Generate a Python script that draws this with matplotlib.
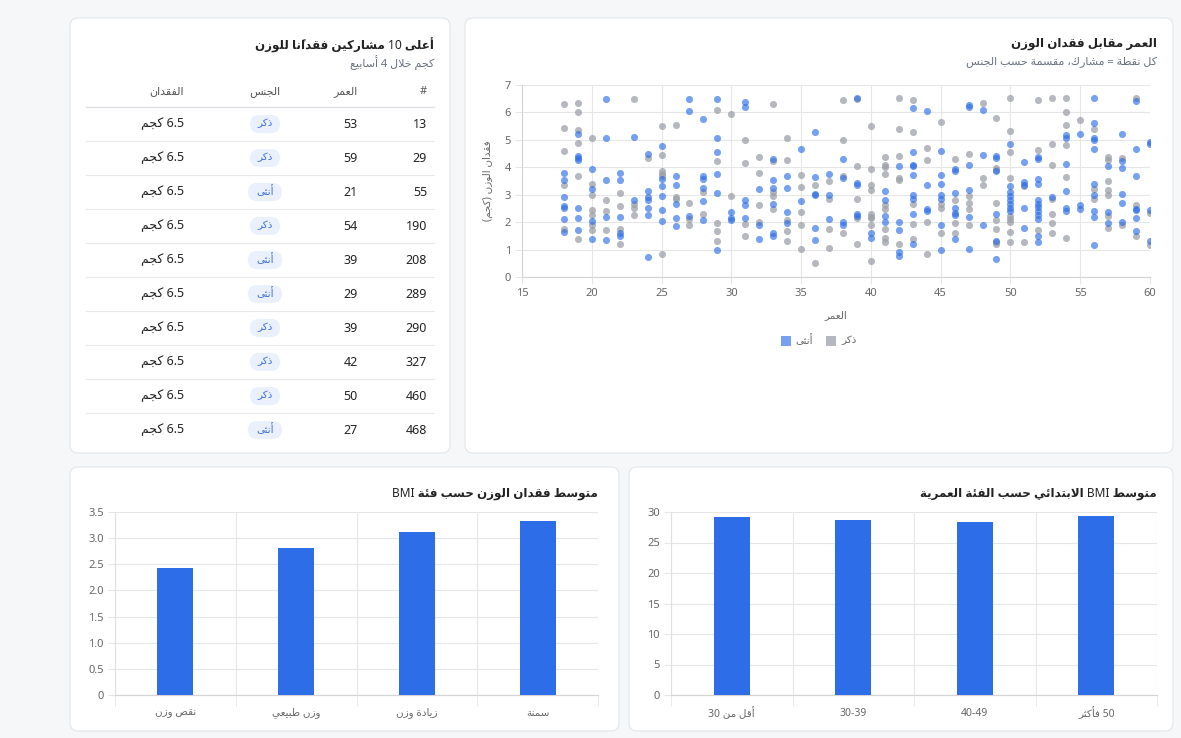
import re
import numpy as np
import matplotlib
matplotlib.use('Agg')
import matplotlib.pyplot as plt
from matplotlib.patches import FancyBboxPatch, Rectangle

plt.rcParams['font.family'] = ['Noto Sans', 'DejaVu Sans']

W, H = 1181, 738

# ---- data ----
table_ids = [13, 29, 55, 190, 208, 289, 290, 327, 460, 468]
table_ages = [53, 59, 21, 54, 39, 29, 39, 42, 50, 27]
table_gender = ['ذكر', 'ذكر', 'أنثى', 'ذكر', 'أنثى', 'أنثى', 'ذكر', 'ذكر', 'ذكر', 'أنثى']
table_loss = [6.5, 6.5, 6.5, 6.5, 6.5, 6.5, 6.5, 6.5, 6.5, 6.5]

# weight loss (kg) per age, read column by column
female_loss = {
    18: [3.8, 3.55, 2.9, 2.6, 2.5, 2.1, 1.65],
    19: [5.22, 4.42, 4.35, 4.27, 2.52, 2.14, 1.72],
    20: [3.95, 3.2, 2.05, 1.4],
    21: [6.5, 5.07, 3.55, 2.2, 1.35],
    22: [3.8, 3.55, 2.2, 1.6, 1.5],
    23: [5.1, 2.8],
    24: [4.5, 3.15, 2.9, 2.8, 2.5, 2.25, 0.72],
    25: [4.77, 3.58, 3.3, 2.97, 2.45, 2.05],
    26: [3.67, 3.36, 2.67, 2.15, 1.85],
    27: [6.5, 6.05, 2.22],
    28: [5.76, 3.7, 3.58, 3.24, 2.78, 2.06],
    29: [6.5, 5.05, 4.56, 3.74, 3.06, 0.98],
    30: [2.37, 2.15, 2.06],
    31: [6.38, 6.2, 2.79, 2.63, 2.15],
    32: [3.2, 1.88, 1.38],
    33: [4.32, 3.52, 3.24, 2.66, 1.6, 1.49],
    34: [3.7, 3.26, 2.37, 1.98],
    35: [4.68, 2.76],
    36: [5.3, 3.65, 3.04, 2.98, 1.8, 1.35],
    37: [3.76, 2.98, 2.12],
    38: [4.32, 3.62, 2.0, 1.88],
    39: [6.51, 3.44, 3.34, 2.3, 2.24],
    40: [1.6, 1.41],
    41: [3.12, 2.79, 2.24, 2.0],
    42: [4.05, 2.02, 1.7, 0.9, 0.76],
    43: [6.15, 4.54, 4.1, 4.05, 3.71, 2.98, 2.85, 2.3, 1.2],
    44: [6.07, 3.35, 2.49, 2.41],
    45: [4.6, 3.71, 3.4, 2.98, 2.85, 1.9, 1.0],
    46: [3.95, 3.88, 3.07, 2.51, 2.33, 2.27, 1.39],
    47: [6.27, 6.2, 4.07, 3.18, 2.17, 1.01],
    48: [6.1, 4.46, 1.88],
    49: [4.4, 4.35, 3.85, 2.29, 1.3, 0.66],
    50: [4.84, 3.3, 3.1, 2.95, 2.8, 2.65, 2.5, 2.4],
    51: [4.2, 3.46, 3.37, 2.51, 1.78],
    52: [4.37, 4.32, 3.56, 3.4, 2.79, 2.66, 2.55, 2.41, 2.25, 2.12, 1.49, 1.26],
    53: [2.91],
    54: [5.17, 5.07, 4.12, 3.12, 2.51, 2.39],
    55: [5.23, 2.61, 2.49],
    56: [6.51, 5.63, 5.05, 4.99, 4.66, 3.4, 3.0, 2.39, 2.18, 1.15],
    57: [4.04, 2.37, 1.98],
    58: [5.23, 4.22, 3.98, 3.04, 2.68, 2.0],
    59: [6.41, 4.66, 3.68, 2.49, 2.43, 2.15, 1.68],
    60: [4.93, 4.85, 2.46, 1.3],
}
male_loss = {
    18: [6.3, 5.45, 4.6, 3.36, 1.75],
    19: [6.34, 6.0, 5.36, 4.9, 3.69, 1.4],
    20: [5.05, 3.4, 3.0, 2.43, 2.25, 1.9, 1.7],
    21: [2.8, 2.4, 1.7],
    22: [3.05, 2.6, 1.75, 1.2],
    23: [6.5, 2.65, 2.5, 2.25],
    24: [4.35],
    25: [5.5, 4.44, 3.85, 3.75, 3.7, 0.85],
    26: [5.55, 2.9, 2.85],
    27: [2.7, 2.1, 1.88],
    28: [3.1, 2.3],
    29: [6.09, 4.24, 1.98, 1.66, 1.3],
    30: [5.93, 2.94],
    31: [5.01, 4.16, 1.94, 1.49],
    32: [4.39, 3.78, 2.61, 2.02],
    33: [6.29, 4.23, 3.1, 2.94, 2.49],
    34: [5.05, 4.26, 2.06, 1.66, 1.3],
    35: [3.71, 3.28, 2.37, 1.88, 1.01],
    36: [3.34, 0.52],
    37: [3.5, 2.83, 1.74, 1.05],
    38: [6.44, 4.99, 3.67, 1.61],
    39: [6.5, 4.05, 2.85, 2.15, 1.2],
    40: [5.5, 3.95, 3.37, 3.16, 2.3, 2.2, 2.15, 1.88, 0.57],
    41: [4.37, 4.1, 4.0, 3.77, 2.63, 2.49, 1.76, 1.41, 1.27],
    42: [6.51, 5.38, 4.41, 3.62, 3.52, 1.2],
    43: [6.46, 5.29, 2.67, 1.94, 1.39],
    44: [4.72, 4.28, 2.02, 0.83],
    45: [5.66, 2.67, 2.51, 1.61],
    46: [4.29, 2.82, 1.96, 1.61],
    47: [4.5, 2.95, 2.7, 2.49, 1.91],
    48: [6.34, 3.61, 3.37],
    49: [5.8, 3.98, 3.89, 2.7, 2.07, 1.76, 1.29, 1.2],
    50: [6.51, 5.33, 4.56, 3.61, 2.24, 2.12, 2.0, 1.63, 1.29],
    51: [3.3, 1.27],
    52: [6.46, 4.62, 1.73],
    53: [6.51, 4.84, 4.07, 2.83, 2.3, 1.96, 1.62],
    54: [6.51, 6.0, 5.54, 4.8, 3.66, 1.44],
    55: [5.74],
    56: [5.39, 3.22, 2.85],
    57: [4.38, 4.26, 3.49, 3.16, 3.0, 2.24, 1.78],
    58: [4.35, 1.88],
    59: [6.51, 2.63, 1.51],
    60: [2.34, 1.18],
}

bmi_cats = ['نقص وزن', 'وزن طبيعي', 'زيادة وزن', 'سمنة']
bmi_loss = [2.42, 2.82, 3.11, 3.33]

age_groups = ['أقل من 30', '30-39', '40-49', '50 فأكثر']
age_bmi = [29.1, 28.7, 28.4, 29.3]

BLUE = '#2d6de8'
GRAY = '#9ca0a8'

# ---- arabic shaping (matplotlib has no bidi / joining) ----
_AR = {
    'ء': (0xFE80, 1), 'آ': (0xFE81, 2), 'أ': (0xFE83, 2), 'ؤ': (0xFE85, 2),
    'إ': (0xFE87, 2), 'ئ': (0xFE89, 4), 'ا': (0xFE8D, 2), 'ب': (0xFE8F, 4),
    'ة': (0xFE93, 2), 'ت': (0xFE95, 4), 'ث': (0xFE99, 4), 'ج': (0xFE9D, 4),
    'ح': (0xFEA1, 4), 'خ': (0xFEA5, 4), 'د': (0xFEA9, 2), 'ذ': (0xFEAB, 2),
    'ر': (0xFEAD, 2), 'ز': (0xFEAF, 2), 'س': (0xFEB1, 4), 'ش': (0xFEB5, 4),
    'ص': (0xFEB9, 4), 'ض': (0xFEBD, 4), 'ط': (0xFEC1, 4), 'ظ': (0xFEC5, 4),
    'ع': (0xFEC9, 4), 'غ': (0xFECD, 4), 'ف': (0xFED1, 4), 'ق': (0xFED5, 4),
    'ك': (0xFED9, 4), 'ل': (0xFEDD, 4), 'م': (0xFEE1, 4), 'ن': (0xFEE5, 4),
    'ه': (0xFEE9, 4), 'و': (0xFEED, 2), 'ى': (0xFEEF, 2), 'ي': (0xFEF1, 4),
}
_LAMALEF = {'آ': 0xFEF5, 'أ': 0xFEF7, 'إ': 0xFEF9, 'ا': 0xFEFB}
_MARKS = set(chr(c) for c in range(0x064B, 0x0653))
_MIRROR = {'(': ')', ')': '('}


def _shape(s):
    out = []
    n = len(s)
    i = 0
    while i < n:
        c = s[i]
        if c not in _AR:
            out.append(c)
            i += 1
            continue
        k = i - 1
        while k >= 0 and s[k] in _MARKS:
            k -= 1
        p = s[k] if k >= 0 else ''
        jp = p in _AR and _AR[p][1] == 4
        j = i + 1
        while j < n and s[j] in _MARKS:
            j += 1
        nx = s[j] if j < n else ''
        if c == 'ل' and nx in _LAMALEF:
            out.append(chr(_LAMALEF[nx] + (1 if jp else 0)))
            i = j + 1
            continue
        base, forms = _AR[c]
        jn = forms == 4 and nx in _AR and _AR[nx][1] > 1
        if forms == 1:
            g = base
        elif forms == 2:
            g = base + (1 if jp else 0)
        else:
            g = base + (3 if jp and jn else 1 if jp else 2 if jn else 0)
        out.append(chr(g))
        i += 1
    return ''.join(out)


def ar(s):
    s = _shape(s)
    runs = re.findall(r'[0-9A-Za-z][0-9A-Za-z.\-]*|[^0-9A-Za-z]+', s)
    vis = []
    for r in reversed(runs):
        if re.match(r'[0-9A-Za-z]', r):
            vis.append(r)
        else:
            cl = []
            for ch in r:
                if ch in _MARKS and cl:
                    cl[-1] += ch
                else:
                    cl.append(ch)
            vis.append(''.join(_MIRROR.get(c, c) for c in reversed(cl)))
    return ''.join(vis)


def box(x0, y0, x1, y1):
    return [x0 / W, 1 - y1 / H, (x1 - x0) / W, (y1 - y0) / H]


fig = plt.figure(figsize=(W / 100, H / 100), dpi=100)
fig.patch.set_facecolor('#f6f7f9')

bg = fig.add_axes([0, 0, 1, 1])
bg.set_xlim(0, W)
bg.set_ylim(H, 0)
bg.axis('off')
bg.set_zorder(0)

for x0, y0, x1, y1 in [(70, 18, 450, 453), (465, 18, 1173, 453),
                       (70, 467, 619, 731), (629, 467, 1173, 731)]:
    bg.add_patch(FancyBboxPatch((x0, y0), x1 - x0, y1 - y0,
                                boxstyle='round,pad=0,rounding_size=8',
                                fc='white', ec='#e2e5e9', lw=0.8))

TXT = '#222222'
SUB = '#6b7280'
TSIZE = 8.6

# ---- table ----
bg.text(434, 45, ar('أعلى 10 مشاركين فقدانًا للوزن'), ha='right', va='center',
        fontsize=TSIZE, fontweight='bold', color=TXT)
bg.text(434, 63, ar('كجم خلال 4 أسابيع'), ha='right', va='center', fontsize=8, color=SUB)
bg.text(427, 92, '#', ha='right', va='center', fontsize=8, color='#555555')
bg.text(358, 92, ar('العمر'), ha='right', va='center', fontsize=8, color='#555555')
bg.text(265, 92, ar('الجنس'), ha='center', va='center', fontsize=8, color='#555555')
bg.text(184, 92, ar('الفقدان'), ha='right', va='center', fontsize=8, color='#555555')
bg.plot([86, 434], [107, 107], color='#dcdfe3', lw=0.9)

for i in range(len(table_ids)):
    yc = 124 + 34 * i
    bg.text(427, yc, str(table_ids[i]), ha='right', va='center', fontsize=9, color=TXT)
    bg.text(358, yc, str(table_ages[i]), ha='right', va='center', fontsize=9, color=TXT)
    pw = 34 if table_gender[i] == 'أنثى' else 30
    bg.add_patch(FancyBboxPatch((265 - pw / 2, yc - 9), pw, 18,
                                boxstyle='round,pad=0,rounding_size=9',
                                fc='#eaf1fd', ec='none'))
    bg.text(265, yc, ar(table_gender[i]), ha='center', va='center', fontsize=7.5,
            color='#3d6fd6')
    bg.text(184, yc, ar('%.1f كجم' % table_loss[i]), ha='right', va='center',
            fontsize=9, color=TXT)
    if i < len(table_ids) - 1:
        bg.plot([86, 434], [yc + 17, yc + 17], color='#e6e8eb', lw=0.8)

# ---- scatter ----
bg.text(1157, 44, ar('العمر مقابل فقدان الوزن'), ha='right', va='center',
        fontsize=TSIZE, fontweight='bold', color=TXT)
bg.text(1157, 62, ar('كل نقطة = مشارك، مقسمة حسب الجنس'), ha='right', va='center',
        fontsize=8, color=SUB)

ax = fig.add_axes(box(522, 85, 1150, 277))
ax.set_zorder(2)
ax.patch.set_alpha(0)
mx = [a for a, vs in male_loss.items() for v in vs]
my = [v for a, vs in male_loss.items() for v in vs]
fx = [a for a, vs in female_loss.items() for v in vs]
fy = [v for a, vs in female_loss.items() for v in vs]
ax.scatter(mx, my, s=26, color=GRAY, alpha=0.75, lw=0, zorder=3)
ax.scatter(fx, fy, s=26, color=BLUE, alpha=0.65, lw=0, zorder=3)
ax.set_xlim(15, 60)
ax.set_ylim(0, 7)
ax.set_xticks(range(15, 61, 5))
ax.set_yticks(range(0, 8))
ax.grid(True, color='#e6e6e6', lw=0.8, zorder=0)
for sp in ['top', 'right']:
    ax.spines[sp].set_visible(False)
for sp in ['left', 'bottom']:
    ax.spines[sp].set_color('#d4d4d4')
ax.tick_params(length=5, color='#e6e6e6', labelcolor='#666666', labelsize=8, pad=3)
ax.set_xlabel(ar('العمر'), fontsize=7.5, color='#666666', labelpad=8)
ax.set_ylabel(ar('فقدان الوزن (كجم)'), fontsize=7.5, color='#666666', labelpad=8)

bg.add_patch(Rectangle((781, 336), 10, 10, fc=BLUE, alpha=0.65, ec='none'))
bg.text(804, 341, ar('أنثى'), ha='center', va='center', fontsize=7.5, color='#666666')
bg.add_patch(Rectangle((826, 336), 10, 10, fc=GRAY, alpha=0.75, ec='none'))
bg.text(849, 341, ar('ذكر'), ha='center', va='center', fontsize=7.5, color='#666666')


# ---- bar charts ----
def bar_chart(rect, cats, vals, ymax, step, ylabels):
    a = fig.add_axes(rect)
    a.set_zorder(2)
    a.patch.set_alpha(0)
    a.bar(range(len(cats)), vals, width=0.3, color=BLUE, zorder=3)
    a.set_xlim(-0.5, len(cats) - 0.5)
    a.set_ylim(0, ymax)
    yt = np.arange(0, ymax + step / 2, step)
    a.set_yticks(yt)
    a.set_yticklabels(ylabels)
    a.set_xticks(range(len(cats)))
    a.set_xticklabels([ar(c) for c in cats])
    a.set_xticks(np.arange(-0.5, len(cats), 1), minor=True)
    a.grid(True, axis='y', color='#e6e6e6', lw=0.8, zorder=0)
    a.grid(True, axis='x', which='minor', color='#e6e6e6', lw=0.8, zorder=0)
    for sp in ['top', 'right']:
        a.spines[sp].set_visible(False)
    a.spines['left'].set_color('#e0e0e0')
    a.spines['bottom'].set_color('#d4d4d4')
    a.tick_params(axis='x', which='major', length=0, pad=9, labelsize=7.5,
                  labelcolor='#666666')
    a.tick_params(axis='x', which='minor', length=8, color='#e6e6e6')
    a.tick_params(axis='y', length=5, color='#e6e6e6', labelsize=8,
                  labelcolor='#666666', pad=3)
    return a


bg.text(598, 493, ar('متوسط فقدان الوزن حسب فئة BMI'), ha='right', va='center',
        fontsize=TSIZE, fontweight='bold', color=TXT)
bar_chart(box(115, 512, 598, 695), bmi_cats, bmi_loss, 3.5, 0.5,
          ['0', '0.5', '1.0', '1.5', '2.0', '2.5', '3.0', '3.5'])

bg.text(1157, 493, ar('متوسط BMI الابتدائي حسب الفئة العمرية'), ha='right', va='center',
        fontsize=TSIZE, fontweight='bold', color=TXT)
bar_chart(box(671, 512, 1157, 695), age_groups, age_bmi, 30, 5,
          ['0', '5', '10', '15', '20', '25', '30'])

fig.savefig('out.png', dpi=100, facecolor=fig.get_facecolor())
